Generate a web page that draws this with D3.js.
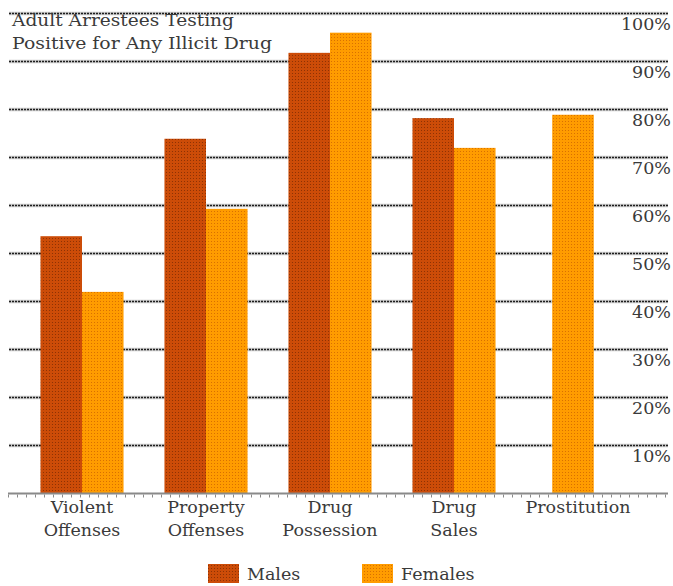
<!DOCTYPE html>
<html>
<head>
<meta charset="utf-8">
<script src="https://cdn.jsdelivr.net/npm/d3@7"></script>
<style>
  html, body { margin: 0; padding: 0; background: #fff; }
  svg { display: block; }
  text { font-family: "DejaVu Serif", "Liberation Serif", serif; fill: #3a3a3a; }
</style>
</head>
<body>
<svg id="chart" width="673" height="586"></svg>
<script>
// ---- data ----
const categories = [["Violent", "Offenses"], ["Property", "Offenses"], ["Drug", "Possession"], ["Drug", "Sales"], ["Prostitution"]];
const categoryKeys = ["Violent Offenses", "Property Offenses", "Drug Possession", "Drug Sales", "Prostitution"];
const males   = [53.5, 73.8, 91.7, 78.1, null];
const females = [41.9, 59.2, 95.9, 71.9, 78.8];
const seriesNames = ["Males", "Females"];
const tickValues = [10, 20, 30, 40, 50, 60, 70, 80, 90, 100];
const titleLines = ["Adult Arrestees Testing", "Positive for Any Illicit Drug"];

const svg = d3.select("#chart");

// patterns
const defs = svg.append("defs");
function dotPattern(id, base, dot) {
  const p = defs.append("pattern").attr("id", id).attr("patternUnits", "userSpaceOnUse")
    .attr("width", 3).attr("height", 3);
  p.append("rect").attr("width", 3).attr("height", 3).attr("fill", base);
  p.append("rect").attr("x", 1).attr("y", 1).attr("width", 1).attr("height", 1).attr("fill", dot);
}
dotPattern("pm", "#cc4c08", "#8e3204");
dotPattern("pf", "#ff9c00", "#d87000");
const fills = ["url(#pm)", "url(#pf)"];

// scales
const x = d3.scaleBand().domain(categoryKeys).range([20, 640]).paddingInner(0.33).paddingOuter(0.165);
const xs = d3.scaleBand().domain(seriesNames).range([0, x.bandwidth()]);
const y = d3.scaleLinear().domain([0, 90]).range([493, 61]);

// gridlines
const gridG = svg.append("g");
gridG.selectAll("line.h").data(tickValues).join("line").attr("class", "h")
  .attr("x1", 9).attr("x2", 668)
  .attr("y1", d => y(d) + 0.5).attr("y2", d => y(d) + 0.5)
  .attr("stroke", "#aaa").attr("stroke-width", 3.5).attr("opacity", 0.6);
gridG.selectAll("line.d").data(tickValues).join("line").attr("class", "d")
  .attr("x1", 9).attr("x2", 668)
  .attr("y1", d => y(d) + 0.5).attr("y2", d => y(d) + 0.5)
  .attr("stroke", "#1e1e1e").attr("stroke-width", 1.5).attr("stroke-dasharray", "2,1");

// right labels
svg.append("g").selectAll("text").data(tickValues).join("text")
  .attr("x", 671).attr("y", d => y(d) + 17)
  .attr("text-anchor", "end").attr("font-size", 17.5)
  .text(d => d + "%");

// title
svg.append("g").selectAll("text").data(titleLines).join("text")
  .attr("x", 12).attr("y", (d, i) => 26 + i * 23)
  .attr("font-size", 17.5).attr("textLength", (d, i) => i === 0 ? 222 : 260)
  .attr("lengthAdjust", "spacingAndGlyphs")
  .text(d => d);

// bars
const rows = categoryKeys.map((c, i) => ({ c, m: males[i], f: females[i] }));
const barG = svg.append("g");
rows.forEach(r => {
  const vals = [r.m, r.f];
  const present = vals.map((v, k) => ({ v, k })).filter(o => o.v != null);
  present.forEach(o => {
    let bx;
    if (present.length === 1) bx = x(r.c) + (x.bandwidth() - xs.bandwidth()) / 2 - 5;
    else bx = x(r.c) + xs(seriesNames[o.k]);
    barG.append("rect")
      .attr("x", bx).attr("y", y(o.v))
      .attr("width", xs.bandwidth()).attr("height", y(0) - y(o.v))
      .attr("fill", fills[o.k]);
  });
});

// baseline axis
svg.append("line").attr("x1", 8).attr("x2", 668).attr("y1", y(0) + 0.5).attr("y2", y(0) + 0.5)
  .attr("stroke", "#8a8a8a").attr("stroke-width", 2);
svg.append("line").attr("x1", 8).attr("x2", 668).attr("y1", y(0) + 3).attr("y2", y(0) + 3)
  .attr("stroke", "#8a8a8a").attr("stroke-width", 3).attr("stroke-dasharray", "1,8");

// category labels
const catG = svg.append("g");
categories.forEach((lines, i) => {
  const cx = x(categoryKeys[i]) + x.bandwidth() / 2;
  const t = catG.append("text").attr("text-anchor", "middle").attr("font-size", 17.5)
    .attr("x", cx).attr("y", 513);
  lines.forEach((ln, j) => t.append("tspan").attr("x", cx)
    .attr("dy", j === 0 ? 0 : 23).text(ln));
});

// legend
const legX = [208, 362];
const leg = svg.append("g");
seriesNames.forEach((s, i) => {
  leg.append("rect").attr("x", legX[i]).attr("y", 564).attr("width", 31).attr("height", 19).attr("fill", fills[i]);
  leg.append("text").attr("x", legX[i] + 39).attr("y", 580).attr("font-size", 17.5).text(s);
});
</script>
</body>
</html>
